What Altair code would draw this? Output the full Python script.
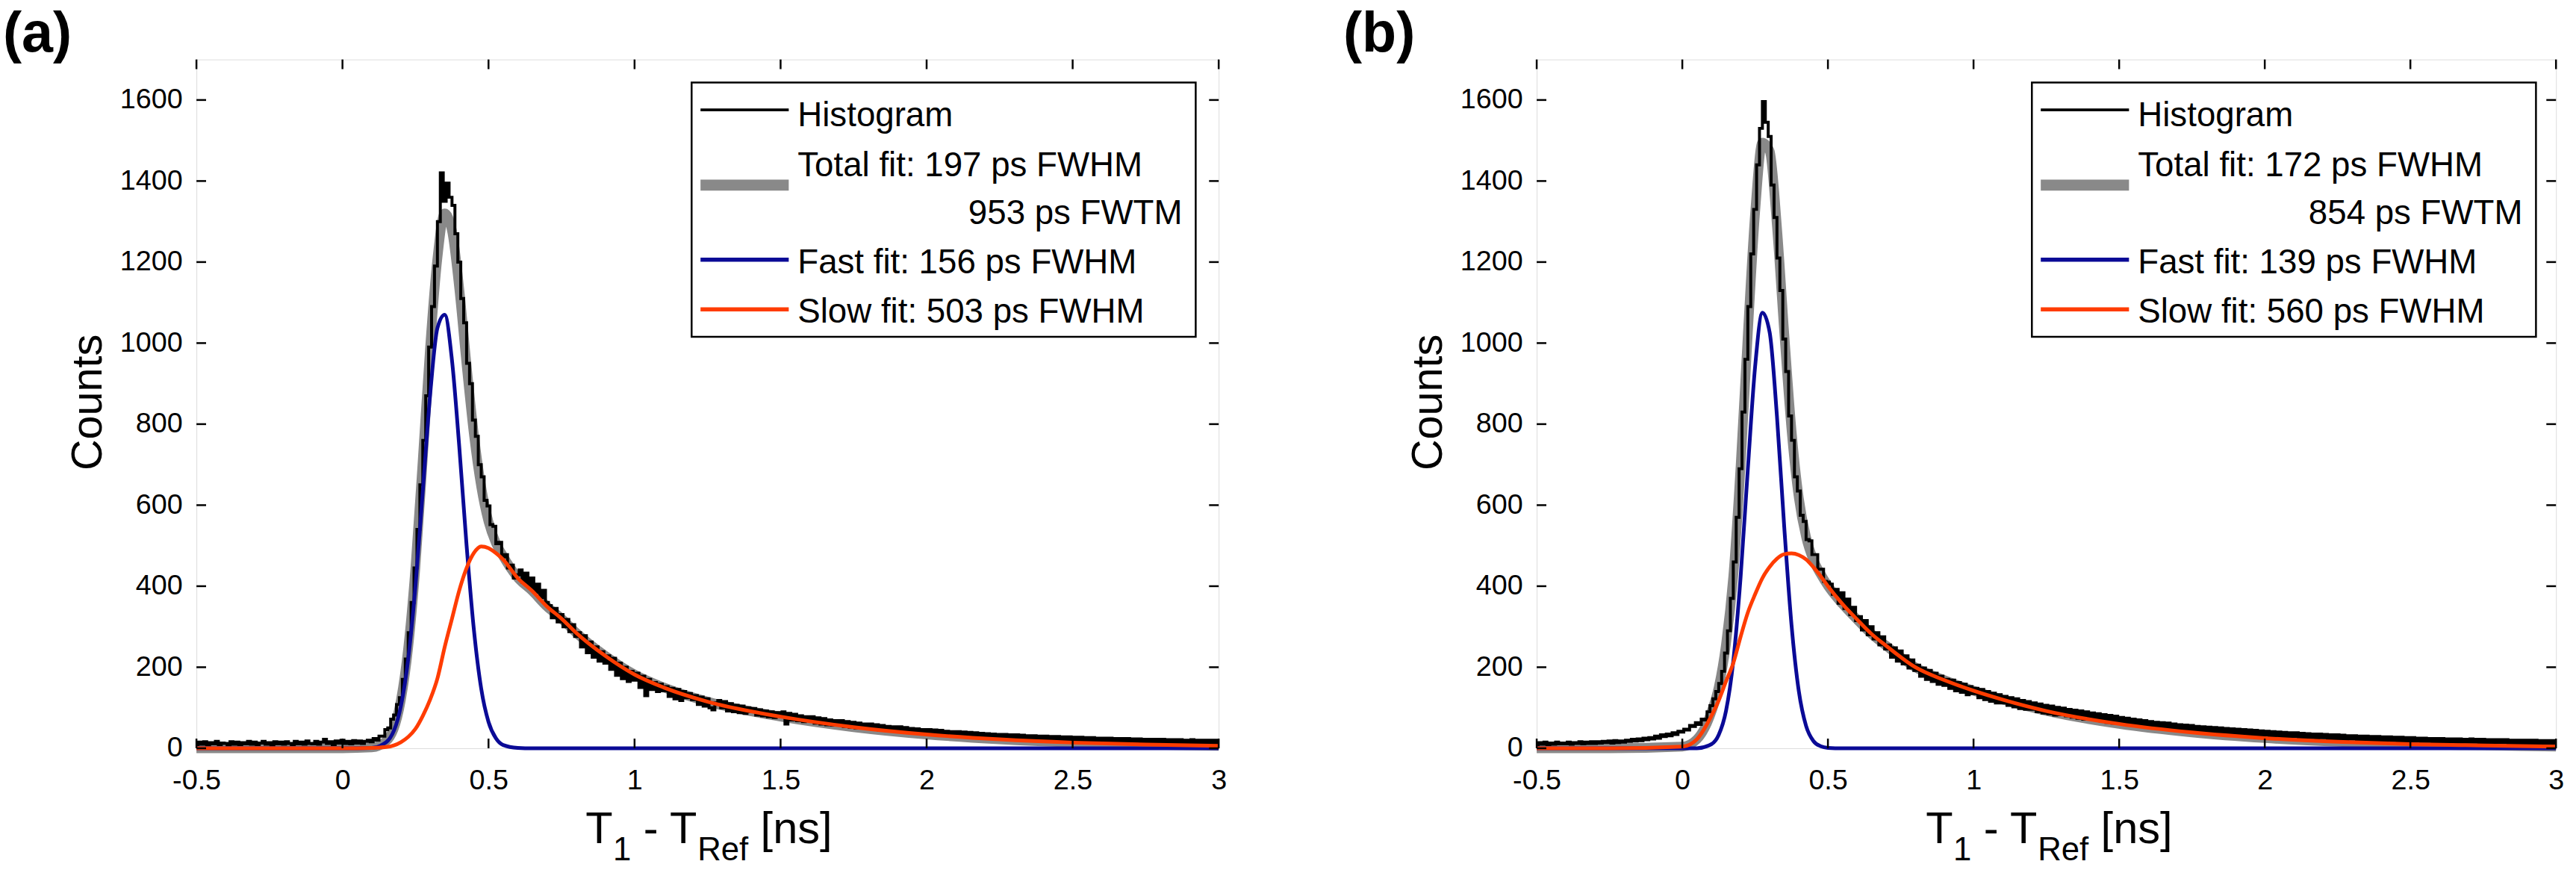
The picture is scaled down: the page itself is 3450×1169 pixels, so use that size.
import altair as alt
import numpy as np
import pandas as pd

# ---------------- data ----------------
X_TICKS = [-0.5, 0, 0.5, 1, 1.5, 2, 2.5, 3]
Y_TICKS = [0, 200, 400, 600, 800, 1000, 1200, 1400, 1600]
X_DOMAIN = [-0.5, 3.0]
Y_DOMAIN = [0, 1700]
BIN_START = -0.5
BIN_WIDTH = 0.01

# panel (a) fits
fit_x_a = [-0.5, -0.25, 0.0, 0.1, 0.15, 0.2, 0.225, 0.25, 0.275, 0.3, 0.325, 0.35, 0.375, 0.4,
           0.425, 0.45, 0.475, 0.5, 0.525, 0.55, 0.6, 0.65, 0.7, 0.75, 0.8, 0.9, 1.0, 1.1, 1.25,
           1.5, 1.75, 2.0, 2.25, 2.5, 2.75, 3.0]
fast_a = [0, 0, 0, 1, 15, 104, 220, 401, 635, 871, 1037, 1070, 957, 743, 500, 292, 147, 65, 25, 8,
          1, 0, 0, 0, 0, 0, 0, 0, 0, 0, 0, 0, 0, 0, 0, 0]
slow_a = [0, 0, 0, 1, 3, 15, 28, 48, 80, 120, 172, 250, 320, 390, 445, 482, 498, 494, 482, 466,
          420, 388, 350, 320, 285, 228, 182, 150, 115, 78, 52, 34, 22, 14, 9, 6]
total_a = [0, 0, 0, 2, 18, 119, 248, 449, 715, 991, 1209, 1320, 1277, 1133, 945, 774, 645, 559,
           507, 474, 421, 388, 350, 320, 285, 228, 182, 150, 115, 78, 52, 34, 22, 14, 9, 6]

# panel (a) histogram, 0.01 ns bins from -0.5 ns
hist_a = [
    9, 15, 10, 16, 8, 14, 11, 17, 9, 13,
    12, 8, 16, 10, 15, 9, 14, 11, 17, 10,
    15, 9, 13, 17, 10, 14, 8, 16, 11, 15,
    10, 16, 12, 9, 17, 11, 15, 10, 18, 12,
    11, 17, 10, 15, 22, 12, 16, 9, 18, 13,
    20, 12, 17, 11, 19, 13, 18, 12, 17, 20,
    16, 24, 20, 30, 30, 46, 50, 72, 82, 108,
    125, 170, 220, 285, 360, 445, 540, 650, 760, 870,
    990, 1090, 1190, 1300, 1420, 1350, 1395, 1360, 1340, 1270,
    1200, 1110, 1050, 950, 900, 810, 770, 700, 670, 612,
    598, 552, 548, 505, 508, 472, 478, 445, 452, 420, 428,
    440, 410, 432, 398, 420, 385, 405, 372, 390, 360,
    352, 322, 345, 312, 330, 300, 318, 288, 305, 276,
    285, 250, 278, 236, 262, 225, 250, 215, 238, 210,
    228, 195, 222, 180, 210, 172, 200, 165, 190, 168,
    185, 150, 178, 130, 170, 145, 162, 140, 158, 142,
    152, 128, 148, 122, 145, 118, 140, 125, 135, 120,
    130, 108, 126, 104, 122, 100, 95, 112, 118, 100,
    115, 92, 110, 90, 106, 88, 104, 86, 100, 90,
    98, 82, 95, 80, 92, 78, 90, 76, 88, 80,
    90, 60, 86, 70, 84, 68, 80, 66, 78, 68,
    78, 62, 75, 60, 73, 58, 70, 57, 68, 58,
    68, 54, 66, 52, 64, 50, 62, 50, 60, 50,
    60, 46, 58, 45, 56, 44, 54, 43, 53, 44,
    53, 40, 51, 39, 49, 38, 48, 37, 46, 38,
    46, 34, 45, 33, 44, 33, 42, 32, 41, 33,
    41, 30, 40, 29, 39, 29, 38, 28, 37, 29,
    36, 26, 35, 26, 34, 25, 34, 25, 33, 25,
    33, 23, 32, 23, 31, 22, 31, 22, 30, 23,
    30, 21, 29, 20, 29, 20, 28, 20, 28, 20,
    27, 19, 27, 18, 26, 18, 26, 18, 25, 18,
    25, 17, 25, 17, 24, 17, 24, 16, 24, 16,
    23, 16, 23, 15, 22, 15, 22, 15, 22, 15,
    22, 14, 21, 14, 21, 14, 21, 14, 20, 14,
    21, 13, 20, 13, 20, 13, 20, 13, 20, 13,
]

# panel (b) fits
fit_x_b = [-0.5, -0.25, 0.0, 0.05, 0.1, 0.125, 0.15, 0.175, 0.2, 0.225, 0.25, 0.275, 0.3, 0.325,
           0.35, 0.375, 0.4, 0.425, 0.45, 0.475, 0.5, 0.55, 0.6, 0.65, 0.7, 0.8, 0.9, 1.0, 1.1,
           1.25, 1.5, 1.75, 2.0, 2.25, 2.5, 2.75, 3.0]
fast_b = [0, 0, 0, 0, 10, 33, 92, 215, 421, 689, 942, 1075, 1026, 819, 546, 304, 141, 55, 18, 5,
          1, 0, 0, 0, 0, 0, 0, 0, 0, 0, 0, 0, 0, 0, 0, 0, 0]
slow_b = [0, 0, 4, 22, 80, 118, 165, 210, 275, 335, 380, 420, 448, 468, 479, 481, 477, 466, 447,
          425, 400, 356, 318, 282, 253, 200, 168, 142, 120, 92, 60, 39, 25, 16, 10, 7, 4]
total_b = [0, 0, 4, 22, 90, 151, 257, 425, 696, 1024, 1322, 1495, 1474, 1287, 1025, 785, 618, 521,
           465, 430, 401, 356, 318, 282, 253, 200, 168, 142, 120, 92, 60, 39, 25, 16, 10, 7, 4]

hist_b = [
    8, 14, 10, 15, 9, 13, 10, 15, 11, 13,
    11, 15, 10, 14, 12, 16, 11, 15, 12, 16,
    12, 16, 13, 17, 14, 18, 13, 19, 14, 18,
    15, 20, 17, 22, 18, 23, 19, 25, 21, 26,
    23, 30, 25, 33, 29, 35, 31, 38, 34, 42,
    40, 47, 45, 56, 54, 63, 59, 72, 70, 90,
    105, 122, 140, 160, 190, 235, 290, 370, 460, 570,
    690, 830, 960, 1090, 1220, 1330, 1440, 1530, 1596, 1545,
    1510, 1390, 1310, 1210, 1130, 1010, 930, 820, 760, 670,
    635, 575, 560, 515, 512, 478, 478, 442, 442, 412, 410,
    405, 380, 392, 358, 384, 345, 368, 330, 348, 315,
    325, 292, 315, 280, 300, 270, 285, 255, 275, 245,
    255, 225, 248, 215, 240, 208, 228, 198, 218, 192,
    205, 178, 198, 170, 192, 165, 185, 158, 178, 155,
    170, 148, 168, 142, 162, 138, 158, 132, 152, 135,
    148, 125, 145, 120, 140, 116, 136, 112, 132, 112,
    128, 106, 125, 102, 122, 98, 118, 96, 115, 96,
    112, 90, 109, 87, 106, 85, 104, 82, 101, 83,
    99, 80, 96, 77, 94, 74, 92, 72, 90, 72,
    87, 70, 85, 67, 83, 64, 81, 62, 79, 62,
    76, 60, 74, 57, 72, 55, 70, 54, 68, 54,
    66, 52, 64, 50, 63, 48, 62, 47, 60, 48,
    58, 46, 57, 44, 56, 42, 54, 41, 53, 42,
    52, 40, 51, 39, 50, 37, 49, 36, 48, 37,
    47, 35, 46, 34, 45, 33, 44, 32, 43, 33,
    42, 31, 41, 30, 40, 29, 39, 28, 38, 29,
    38, 27, 37, 27, 36, 26, 35, 25, 35, 26,
    34, 24, 33, 24, 33, 23, 32, 22, 31, 23,
    31, 22, 30, 21, 30, 20, 29, 20, 29, 20,
    28, 20, 28, 19, 27, 18, 27, 18, 26, 18,
    26, 18, 25, 17, 25, 17, 24, 16, 24, 16,
    24, 16, 23, 16, 23, 15, 23, 15, 22, 15,
    23, 15, 22, 14, 22, 14, 21, 14, 21, 14,
    21, 14, 21, 13, 20, 13, 20, 13, 20, 13,
    20, 13, 20, 12, 19, 12, 19, 12, 19, 12,
]

legend_a = ["Histogram", "Total fit: 197 ps FWHM", "953 ps FWTM",
            "Fast fit: 156 ps FWHM", "Slow fit: 503 ps FWHM"]
legend_b = ["Histogram", "Total fit: 172 ps FWHM", "854 ps FWTM",
            "Fast fit: 139 ps FWHM", "Slow fit: 560 ps FWHM"]

# ---------------- style ----------------
FONT = "Liberation Sans"
C_GRAY = "#898989"
C_HIST = "#000000"
C_FAST = "#0a0a96"
C_SLOW = "#ff3c00"
H = 929


def make_panel(tag, fit_x, total, fast, slow, hist, legend, width):
    xs = alt.Scale(domain=X_DOMAIN, nice=False, zero=False)
    ys = alt.Scale(domain=Y_DOMAIN, nice=False, zero=False)
    xax = alt.Axis(values=X_TICKS, labelExpr="'' + datum.value", ticks=False, domain=False,
                   grid=False, title=None, labelFont=FONT, labelFontSize=38, labelColor="black",
                   labelPadding=25, labelFlush=False, labelOverlap=False, labelBound=False)
    yax = alt.Axis(values=Y_TICKS, labelExpr="'' + datum.value", ticks=False, domain=False,
                   grid=False, title=None, labelFont=FONT, labelFontSize=38, labelColor="black",
                   labelPadding=19, labelFlush=False, labelOverlap=False, labelBound=False)

    def X():
        return alt.X("x:Q", scale=xs, axis=xax)

    def Y():
        return alt.Y("y:Q", scale=ys, axis=yax)

    def line(xv, yv, color, w, interp):
        df = pd.DataFrame({"x": xv, "y": yv})
        return alt.Chart(df).mark_line(color=color, strokeWidth=w, interpolate=interp).encode(x=X(), y=Y())

    hx = np.round(BIN_START + BIN_WIDTH * np.arange(len(hist)), 3)
    layers = [
        line(fit_x, total, C_GRAY, 13, "monotone"),
        line(hx, hist, C_HIST, 4, "step"),
        line(fit_x, fast, C_FAST, 5, "monotone"),
        line(fit_x, slow, C_SLOW, 5, "monotone"),
    ]
    xt = pd.DataFrame({"x": X_TICKS})
    yt = pd.DataFrame({"y": Y_TICKS})
    tl = 13
    layers += [
        alt.Chart(xt).mark_rule(color="black", strokeWidth=2.5).encode(x=X(), y=alt.value(H), y2=alt.value(H - tl)),
        alt.Chart(xt).mark_rule(color="black", strokeWidth=2.5).encode(x=X(), y=alt.value(0), y2=alt.value(tl)),
        alt.Chart(yt).mark_rule(color="black", strokeWidth=2.5).encode(y=Y(), x=alt.value(0), x2=alt.value(tl)),
        alt.Chart(yt).mark_rule(color="black", strokeWidth=2.5).encode(y=Y(), x=alt.value(width), x2=alt.value(width - tl)),
    ]
    one = pd.DataFrame({"k": [0]})
    # legend box
    layers.append(alt.Chart(one).mark_rect(fill="white", stroke="black", strokeWidth=2.5).encode(
        x=alt.value(668), x2=alt.value(1348), y=alt.value(31), y2=alt.value(374)))
    for yv, col, w in [(68, C_HIST, 3.6), (169.5, C_GRAY, 15), (270, C_FAST, 5.5), (337, C_SLOW, 5.5)]:
        layers.append(alt.Chart(one).mark_rule(color=col, strokeWidth=w).encode(
            x=alt.value(680), x2=alt.value(799), y=alt.value(yv)))
    pos = [(811, 90, "left"), (811, 157, "left"), (1330, 222, "right"), (811, 288, "left"), (811, 355, "left")]
    for s, (xv, yv, al) in zip(legend, pos):
        layers.append(alt.Chart(one).mark_text(font=FONT, fontSize=46, align=al, baseline="alphabetic",
                                               color="black").encode(
            x=alt.value(xv), y=alt.value(yv), text=alt.value(s)))
    # panel tag
    layers.append(alt.Chart(one).mark_text(font=FONT, fontSize=76, fontWeight="bold", align="left",
                                           baseline="alphabetic", color="black").encode(
        x=alt.value(-261), y=alt.value(-11), text=alt.value(tag)))
    # y title
    layers.append(alt.Chart(one).mark_text(font=FONT, fontSize=58, angle=270, align="center",
                                           baseline="alphabetic", color="black").encode(
        x=alt.value(-128), y=alt.value(H / 2 - 2), text=alt.value("Counts")))
    # x title with subscripts
    parts = [("T", 525, 1057, 60), ("1", 562, 1080, 44), ("- T", 603, 1057, 60),
             ("Ref", 676, 1080, 44), ("[ns]", 761, 1057, 60)]
    for s, xv, yv, fs in parts:
        layers.append(alt.Chart(one).mark_text(font=FONT, fontSize=fs, align="left",
                                               baseline="alphabetic", color="black").encode(
            x=alt.value(xv), y=alt.value(yv), text=alt.value(s)))
    return alt.layer(*layers).properties(width=width, height=H)


pa = make_panel("(a)", fit_x_a, total_a, fast_a, slow_a, hist_a, legend_a, 1379)
pb = make_panel("(b)", fit_x_b, total_b, fast_b, slow_b, hist_b, legend_b, 1375)

chart = alt.hconcat(pa, pb, spacing=140).properties(
    padding={"left": 3, "top": 3, "right": 0, "bottom": 0}
).configure_view(stroke="black", strokeWidth=3).configure(background="white")

chart.save("out.html", embed_options={"renderer": "svg", "actions": False})
